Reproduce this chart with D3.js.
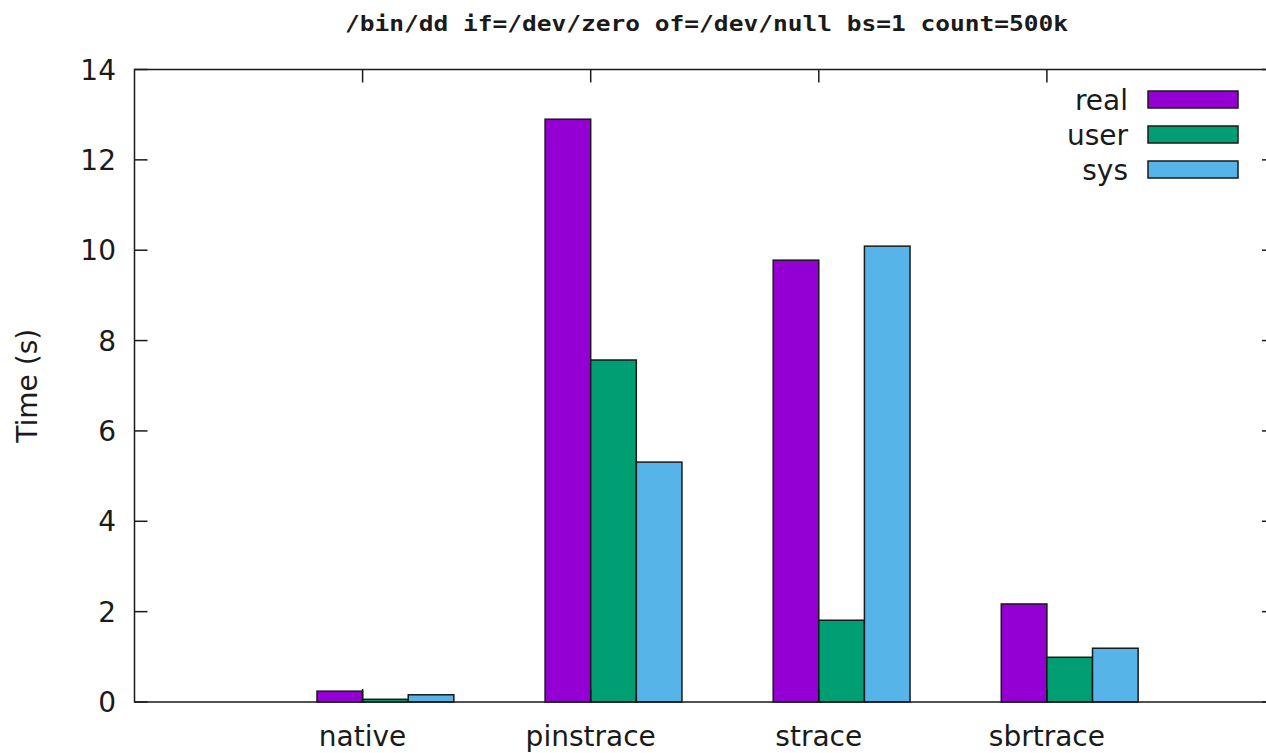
<!DOCTYPE html>
<html>
<head>
<meta charset="utf-8">
<script src="https://cdn.jsdelivr.net/npm/d3@7"></script>
<style>
  body { margin: 0; background: #fff; }
  text { font-family: "DejaVu Sans", sans-serif; fill: #1a1a1a; }
  .title { font-family: "DejaVu Sans Mono", monospace; font-weight: bold; }
</style>
</head>
<body>
<div id="chart"></div>
<script>
// chart data
var categories = ["native", "pinstrace", "strace", "sbrtrace"];
var seriesNames = ["real", "user", "sys"];
var realTimes = [0.24, 12.9, 9.78, 2.17];
var userTimes = [0.06, 7.57, 1.81, 0.99];
var sysTimes = [0.16, 5.31, 10.09, 1.19];
var yTicks = [0, 2, 4, 6, 8, 10, 12, 14];
var titleText = "/bin/dd if=/dev/zero of=/dev/null bs=1 count=500k";

var colors = ["#9400d3", "#009e73", "#56b4e9"];
var series = [realTimes, userTimes, sysTimes];

var width = 1266, height = 753;
var margin = {top: 69.5, left: 134.5, bottom: 702, right: 1275};

var svg = d3.select("#chart").append("svg")
  .attr("width", width)
  .attr("height", height);

// gnuplot style x range: cluster i sits at x = i
var x = d3.scaleLinear().domain([-1, 4]).range([margin.left, margin.right]);
var y = d3.scaleLinear().domain([0, 14]).range([margin.bottom, margin.top]);
var barW = 0.2;
var tickLen = 13;

// bars
series.forEach(function(vals, j) {
  svg.append("g").selectAll("rect")
    .data(vals)
    .enter().append("rect")
    .attr("x", function(d, i) { return x(i + (j - 1) * barW); })
    .attr("width", function(d, i) { return x(i + (j - 1) * barW + barW) - x(i + (j - 1) * barW); })
    .attr("y", function(d) { return y(d); })
    .attr("height", function(d) { return y(0) - y(d); })
    .style("fill", colors[j])
    .style("stroke", "#1a1a1a")
    .style("stroke-width", 1.5);
});

// frame
svg.append("path")
  .attr("d", "M" + margin.right + "," + margin.top + "H" + margin.left +
             "V" + margin.bottom + "H" + margin.right)
  .style("fill", "none")
  .style("stroke", "#1a1a1a")
  .style("stroke-width", 1.5);

// y ticks, left and mirrored right
var yAxis = svg.append("g");
yTicks.forEach(function(t) {
  yAxis.append("line")
    .attr("x1", margin.left).attr("x2", margin.left + tickLen)
    .attr("y1", y(t)).attr("y2", y(t))
    .style("stroke", "#1a1a1a").style("stroke-width", 1.5);
  yAxis.append("line")
    .attr("x1", margin.right).attr("x2", margin.right - tickLen)
    .attr("y1", y(t)).attr("y2", y(t))
    .style("stroke", "#1a1a1a").style("stroke-width", 1.5);
  yAxis.append("text")
    .attr("x", 116)
    .attr("y", y(t))
    .attr("dy", "0.36em")
    .attr("text-anchor", "end")
    .style("font-size", "28px")
    .text(t);
});

// x ticks, bottom and mirrored top
var xAxis = svg.append("g");
categories.forEach(function(c, i) {
  xAxis.append("line")
    .attr("x1", x(i)).attr("x2", x(i))
    .attr("y1", margin.bottom).attr("y2", margin.bottom - tickLen)
    .style("stroke", "#1a1a1a").style("stroke-width", 1.5);
  xAxis.append("line")
    .attr("x1", x(i)).attr("x2", x(i))
    .attr("y1", margin.top).attr("y2", margin.top + tickLen)
    .style("stroke", "#1a1a1a").style("stroke-width", 1.5);
  xAxis.append("text")
    .attr("x", x(i))
    .attr("y", 746)
    .attr("text-anchor", "middle")
    .style("font-size", "28px")
    .text(c);
});

// y label
svg.append("text")
  .attr("transform", "translate(37," + ((margin.top + margin.bottom) / 2) + ") rotate(-90)")
  .attr("text-anchor", "middle")
  .style("font-size", "28px")
  .text("Time (s)");

// title, stretched to the width it has in the picture
svg.append("text")
  .attr("class", "title")
  .attr("x", 345)
  .attr("y", 31)
  .attr("textLength", 723)
  .attr("lengthAdjust", "spacingAndGlyphs")
  .style("font-size", "22px")
  .text(titleText);

// legend
var legend = svg.append("g");
seriesNames.forEach(function(name, j) {
  var cy = 99.5 + j * 35;
  legend.append("rect")
    .attr("x", 1148).attr("y", cy - 8.5)
    .attr("width", 90).attr("height", 17)
    .style("fill", colors[j])
    .style("stroke", "#1a1a1a")
    .style("stroke-width", 1.5);
  legend.append("text")
    .attr("x", 1128)
    .attr("y", cy)
    .attr("dy", "0.36em")
    .attr("text-anchor", "end")
    .style("font-size", "28px")
    .text(name);
});
</script>
</body>
</html>
